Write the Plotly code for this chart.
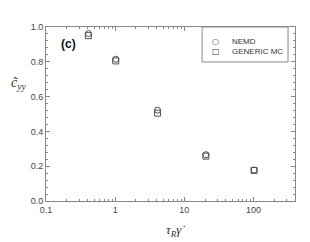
import plotly.graph_objects as go

x_vals = [0.41, 1.02, 4.1, 20.5, 102]
nemd = [0.962, 0.815, 0.522, 0.266, 0.178]
generic_mc = [0.950, 0.805, 0.505, 0.258, 0.176]
x_tick_vals = [0.1, 1, 10, 100]
x_tick_text = ["0.1", "1", "10", "100"]
series_names = ["NEMD", "GENERIC MC"]
legend_glyphs = ["○", "□"]

col = "#505050"
fig = go.Figure()
fig.add_trace(go.Scatter(x=x_vals, y=nemd, mode="markers", name=series_names[0],
                         marker=dict(symbol="circle-open", size=6, color=col, line=dict(width=1, color=col))))
fig.add_trace(go.Scatter(x=x_vals, y=generic_mc, mode="markers", name=series_names[1],
                         marker=dict(symbol="square-open", size=6, color=col, line=dict(width=1, color=col))))

axis_common = dict(showline=True, linecolor="#888888", linewidth=1, mirror="ticks",
                   ticks="inside", tickcolor="#888888", ticklen=4, showgrid=False, zeroline=False,
                   automargin=False,
                   tickfont=dict(family="Liberation Sans, Arial", size=9, color="#444444"))

fig.update_xaxes(type="log", range=[-1, 2.6], tickvals=x_tick_vals, ticktext=x_tick_text,
                 minor=dict(ticks="inside", ticklen=2, tickcolor="#888888", dtick="D1"),
                 **axis_common)
fig.update_yaxes(range=[0, 1.0], dtick=0.2, tickformat=".1f",
                 minor=dict(ticks="inside", ticklen=2, tickcolor="#888888", dtick=0.04),
                 **axis_common)

serif = "Liberation Serif, Times New Roman"
sans = "Liberation Sans, Arial"
fig.add_annotation(text="<i>c̃</i><sub><i>yy</i></sub>", xref="paper", yref="paper",
                   x=-0.108, y=0.675, xanchor="center", yanchor="middle", showarrow=False,
                   font=dict(family=serif, size=14, color="#333333"))
fig.add_annotation(text="<i>τ</i><sub><i>R</i></sub><i>γ̇</i>", xref="paper", yref="paper",
                   x=0.522, y=-0.167, xanchor="center", yanchor="middle", showarrow=False,
                   font=dict(family=serif, size=13, color="#333333"))
fig.add_annotation(text="<b>(c)</b>", xref="paper", yref="paper", x=0.052, y=0.902,
                   xanchor="left", yanchor="middle", showarrow=False,
                   font=dict(family=sans, size=12, color="#111111"))

# legend drawn as a bordered box with glyph + label rows
fig.add_shape(type="rect", xref="paper", yref="paper", x0=0.627, x1=0.972, y0=0.799, y1=1.0,
              line=dict(color="#888888", width=1), fillcolor="white", layer="above")
for i, (g, name) in enumerate(zip(legend_glyphs, series_names)):
    yy = 0.914 - i * 0.056
    fig.add_annotation(text=g, xref="paper", yref="paper", x=0.681, y=yy,
                       xanchor="center", yanchor="middle", showarrow=False,
                       font=dict(family="DejaVu Sans", size=8, color="#333333"))
    fig.add_annotation(text=name, xref="paper", yref="paper", x=0.739, y=yy,
                       xanchor="left", yanchor="middle", showarrow=False,
                       font=dict(family=sans, size=8, color="#333333"))

# page is rendered with an 8px body margin; compensate in the figure margins
fig.update_layout(template="none", width=310, height=242,
                  margin=dict(l=38, r=23, t=19, b=49),
                  plot_bgcolor="white", paper_bgcolor="white",
                  showlegend=False)
fig.write_html("out.html")
